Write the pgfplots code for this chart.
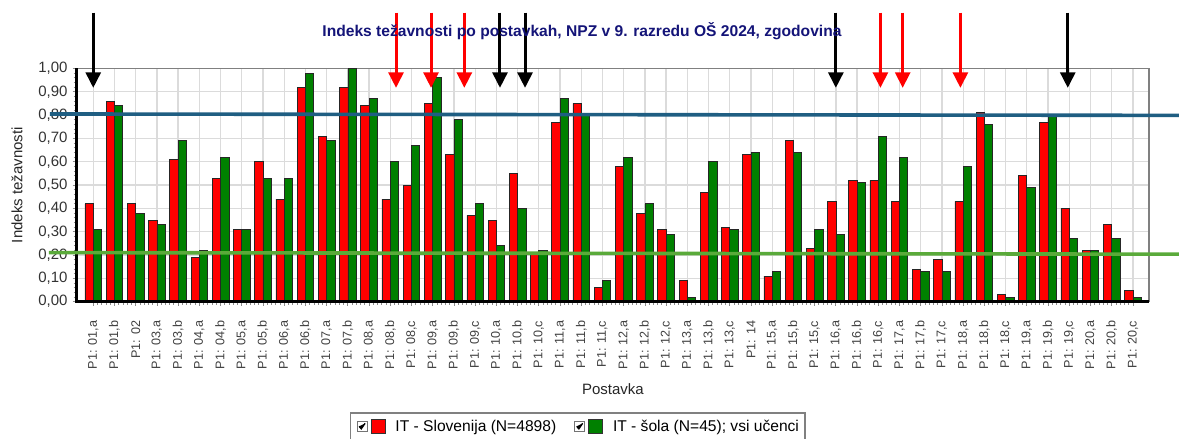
\documentclass[border=0pt]{standalone}
\usepackage{pgfplots}
\pgfplotsset{compat=1.18}
\usepackage{fontspec}
\setmainfont{Liberation Sans}
\usetikzlibrary{arrows.meta}
\definecolor{barred}{RGB}{255,0,0}
\definecolor{bargreen}{RGB}{0,128,0}
\definecolor{lineblue}{RGB}{31,94,130}
\definecolor{linegreen}{RGB}{90,170,58}
\definecolor{titleblue}{RGB}{20,20,120}
\begin{document}
\begin{tikzpicture}
\useasboundingbox (-76.7pt,-137.3pt) rectangle (1102.3pt,301.7pt);
\begin{axis}[
  at={(0pt,0pt)}, anchor=south west,
  scale only axis, width=1072.3pt, height=233.2pt,
  xmin=-0.78, xmax=49.76, ymin=0, ymax=1,
  ybar=0pt, bar width=8.3pt,
  clip=false,
  xtick={0,...,49},
  xticklabels={{P1: 01,a},{P1: 01,b},{P1: 02},{P1: 03,a},{P1: 03,b},{P1: 04,a},{P1: 04,b},{P1: 05,a},{P1: 05,b},{P1: 06,a},
    {P1: 06,b},{P1: 07,a},{P1: 07,b},{P1: 08,a},{P1: 08,b},{P1: 08,c},{P1: 09,a},{P1: 09,b},{P1: 09,c},{P1: 10,a},
    {P1: 10,b},{P1: 10,c},{P1: 11,a},{P1: 11,b},{P1: 11,c},{P1: 12,a},{P1: 12,b},{P1: 12,c},{P1: 13,a},{P1: 13,b},
    {P1: 13,c},{P1: 14},{P1: 15,a},{P1: 15,b},{P1: 15,c},{P1: 16,a},{P1: 16,b},{P1: 16,c},{P1: 17,a},{P1: 17,b},
    {P1: 17,c},{P1: 18,a},{P1: 18,b},{P1: 18,c},{P1: 19,a},{P1: 19,b},{P1: 19,c},{P1: 20,a},{P1: 20,b},{P1: 20,c}},
  ytick={0,0.1,0.2,0.3,0.4,0.5,0.6,0.7,0.8,0.9,1},
  yticklabel={\pgfmathprintnumber[fixed,fixed zerofill,precision=2,use comma,assume math mode=true]{\tick}},
  minor x tick num=4, minor y tick num=4,
  tick align=outside, tick pos=left,
  major tick length=4pt, minor tick length=3pt,
  every tick/.style={black!45, line width=0.8pt},
  grid=major, major grid style={black!14, line width=1.3pt},
  axis line style={black!50, line width=1.3pt},
  xticklabel style={rotate=90, anchor=east, inner sep=0pt, font=\fontsize{12.6}{14}\selectfont, text=black!75},
  xticklabel shift=15pt,
  yticklabel style={anchor=east, inner sep=0pt, font=\fontsize{15}{18}\selectfont, text=black!80},
  yticklabel shift=5pt,
  xlabel={Postavka},
  xlabel style={at={(axis description cs:0.5,-0.3743)}, anchor=center, font=\fontsize{15}{18}\selectfont, text=black!85},
  ylabel={Indeks težavnosti},
  ylabel style={at={(axis description cs:-0.05567,0.5)}, anchor=center, font=\fontsize{15}{18}\selectfont, text=black!85},
  title={Indeks težavnosti po postavkah, NPZ v 9. razredu OŠ 2024, zgodovina},
  title style={at={(axis description cs:0.4712,1.135)}, anchor=center, yshift=0pt, font=\bfseries\fontsize{15.6}{18}\selectfont, text=titleblue},
  legend columns=2,
  legend style={at={(axis description cs:0.2549,-0.4743)}, anchor=north west,
    draw=black!50, line width=1.3pt, inner xsep=6pt, inner ysep=6pt,
    font=\fontsize{15.6}{18}\selectfont, nodes={inner sep=0pt, anchor=west},
    /tikz/every even column/.append style={column sep=18pt}},
]
\addplot[fill=barred, draw=black!85, line width=0.7pt,
  legend image code/.code={
    \draw[black!55, line width=0.8pt, fill=white] (0pt,-5pt) rectangle (10pt,5pt);
    \draw[black, line width=1.3pt] (2pt,0pt) -- (4.2pt,-2.5pt) -- (8pt,3pt);
    \draw[black!80, line width=0.8pt, fill=barred] (14pt,-7pt) rectangle (28pt,7pt);
    \path (38pt,0pt);
  }] coordinates {
(0,0.42) (1,0.86) (2,0.42) (3,0.35) (4,0.61) (5,0.19) (6,0.53) (7,0.31) (8,0.60) (9,0.44)
(10,0.92) (11,0.71) (12,0.92) (13,0.84) (14,0.44) (15,0.50) (16,0.85) (17,0.63) (18,0.37) (19,0.35)
(20,0.55) (21,0.21) (22,0.77) (23,0.85) (24,0.06) (25,0.58) (26,0.38) (27,0.31) (28,0.09) (29,0.47)
(30,0.32) (31,0.63) (32,0.11) (33,0.69) (34,0.23) (35,0.43) (36,0.52) (37,0.52) (38,0.43) (39,0.14)
(40,0.18) (41,0.43) (42,0.81) (43,0.03) (44,0.54) (45,0.77) (46,0.40) (47,0.22) (48,0.33) (49,0.05)
};
\addlegendentry{IT - Slovenija (N=4898)}
\addplot[fill=bargreen, draw=black!85, line width=0.7pt,
  legend image code/.code={
    \draw[black!55, line width=0.8pt, fill=white] (0pt,-5pt) rectangle (10pt,5pt);
    \draw[black, line width=1.3pt] (2pt,0pt) -- (4.2pt,-2.5pt) -- (8pt,3pt);
    \draw[black!80, line width=0.8pt, fill=bargreen] (14pt,-7pt) rectangle (28pt,7pt);
    \path (38pt,0pt);
  }] coordinates {
(0,0.31) (1,0.84) (2,0.38) (3,0.33) (4,0.69) (5,0.22) (6,0.62) (7,0.31) (8,0.53) (9,0.53)
(10,0.98) (11,0.69) (12,1.00) (13,0.87) (14,0.60) (15,0.67) (16,0.96) (17,0.78) (18,0.42) (19,0.24)
(20,0.40) (21,0.22) (22,0.87) (23,0.80) (24,0.09) (25,0.62) (26,0.42) (27,0.29) (28,0.02) (29,0.60)
(30,0.31) (31,0.64) (32,0.13) (33,0.64) (34,0.31) (35,0.29) (36,0.51) (37,0.71) (38,0.62) (39,0.13)
(40,0.13) (41,0.58) (42,0.76) (43,0.02) (44,0.49) (45,0.80) (46,0.27) (47,0.22) (48,0.27) (49,0.02)
};
\addlegendentry{IT - šola (N=45); vsi učenci}
\draw[black, line width=2.4pt] (rel axis cs:0,1) -- (rel axis cs:0,0) -- (rel axis cs:1,0);
\draw[lineblue, line width=3.6pt] (axis cs:-2.04,0.805) -- (axis cs:51.21,0.799);
\draw[linegreen, line width=3.6pt] (axis cs:-2.09,0.2106) -- (axis cs:51.21,0.2037);
\pgfplotsinvokeforeach{0,19.17,20.35,35.0,45.93}{
  \draw[black, line width=3pt, -{Triangle[length=15.6pt,width=15pt]}] (axis cs:#1,1.2394) -- (axis cs:#1,0.917);
}
\pgfplotsinvokeforeach{14.27,15.92,17.49,37.1,38.15,40.87}{
  \draw[barred, line width=3pt, -{Triangle[length=15.6pt,width=15pt]}] (axis cs:#1,1.2394) -- (axis cs:#1,0.917);
}
\end{axis}
\end{tikzpicture}
\end{document}
